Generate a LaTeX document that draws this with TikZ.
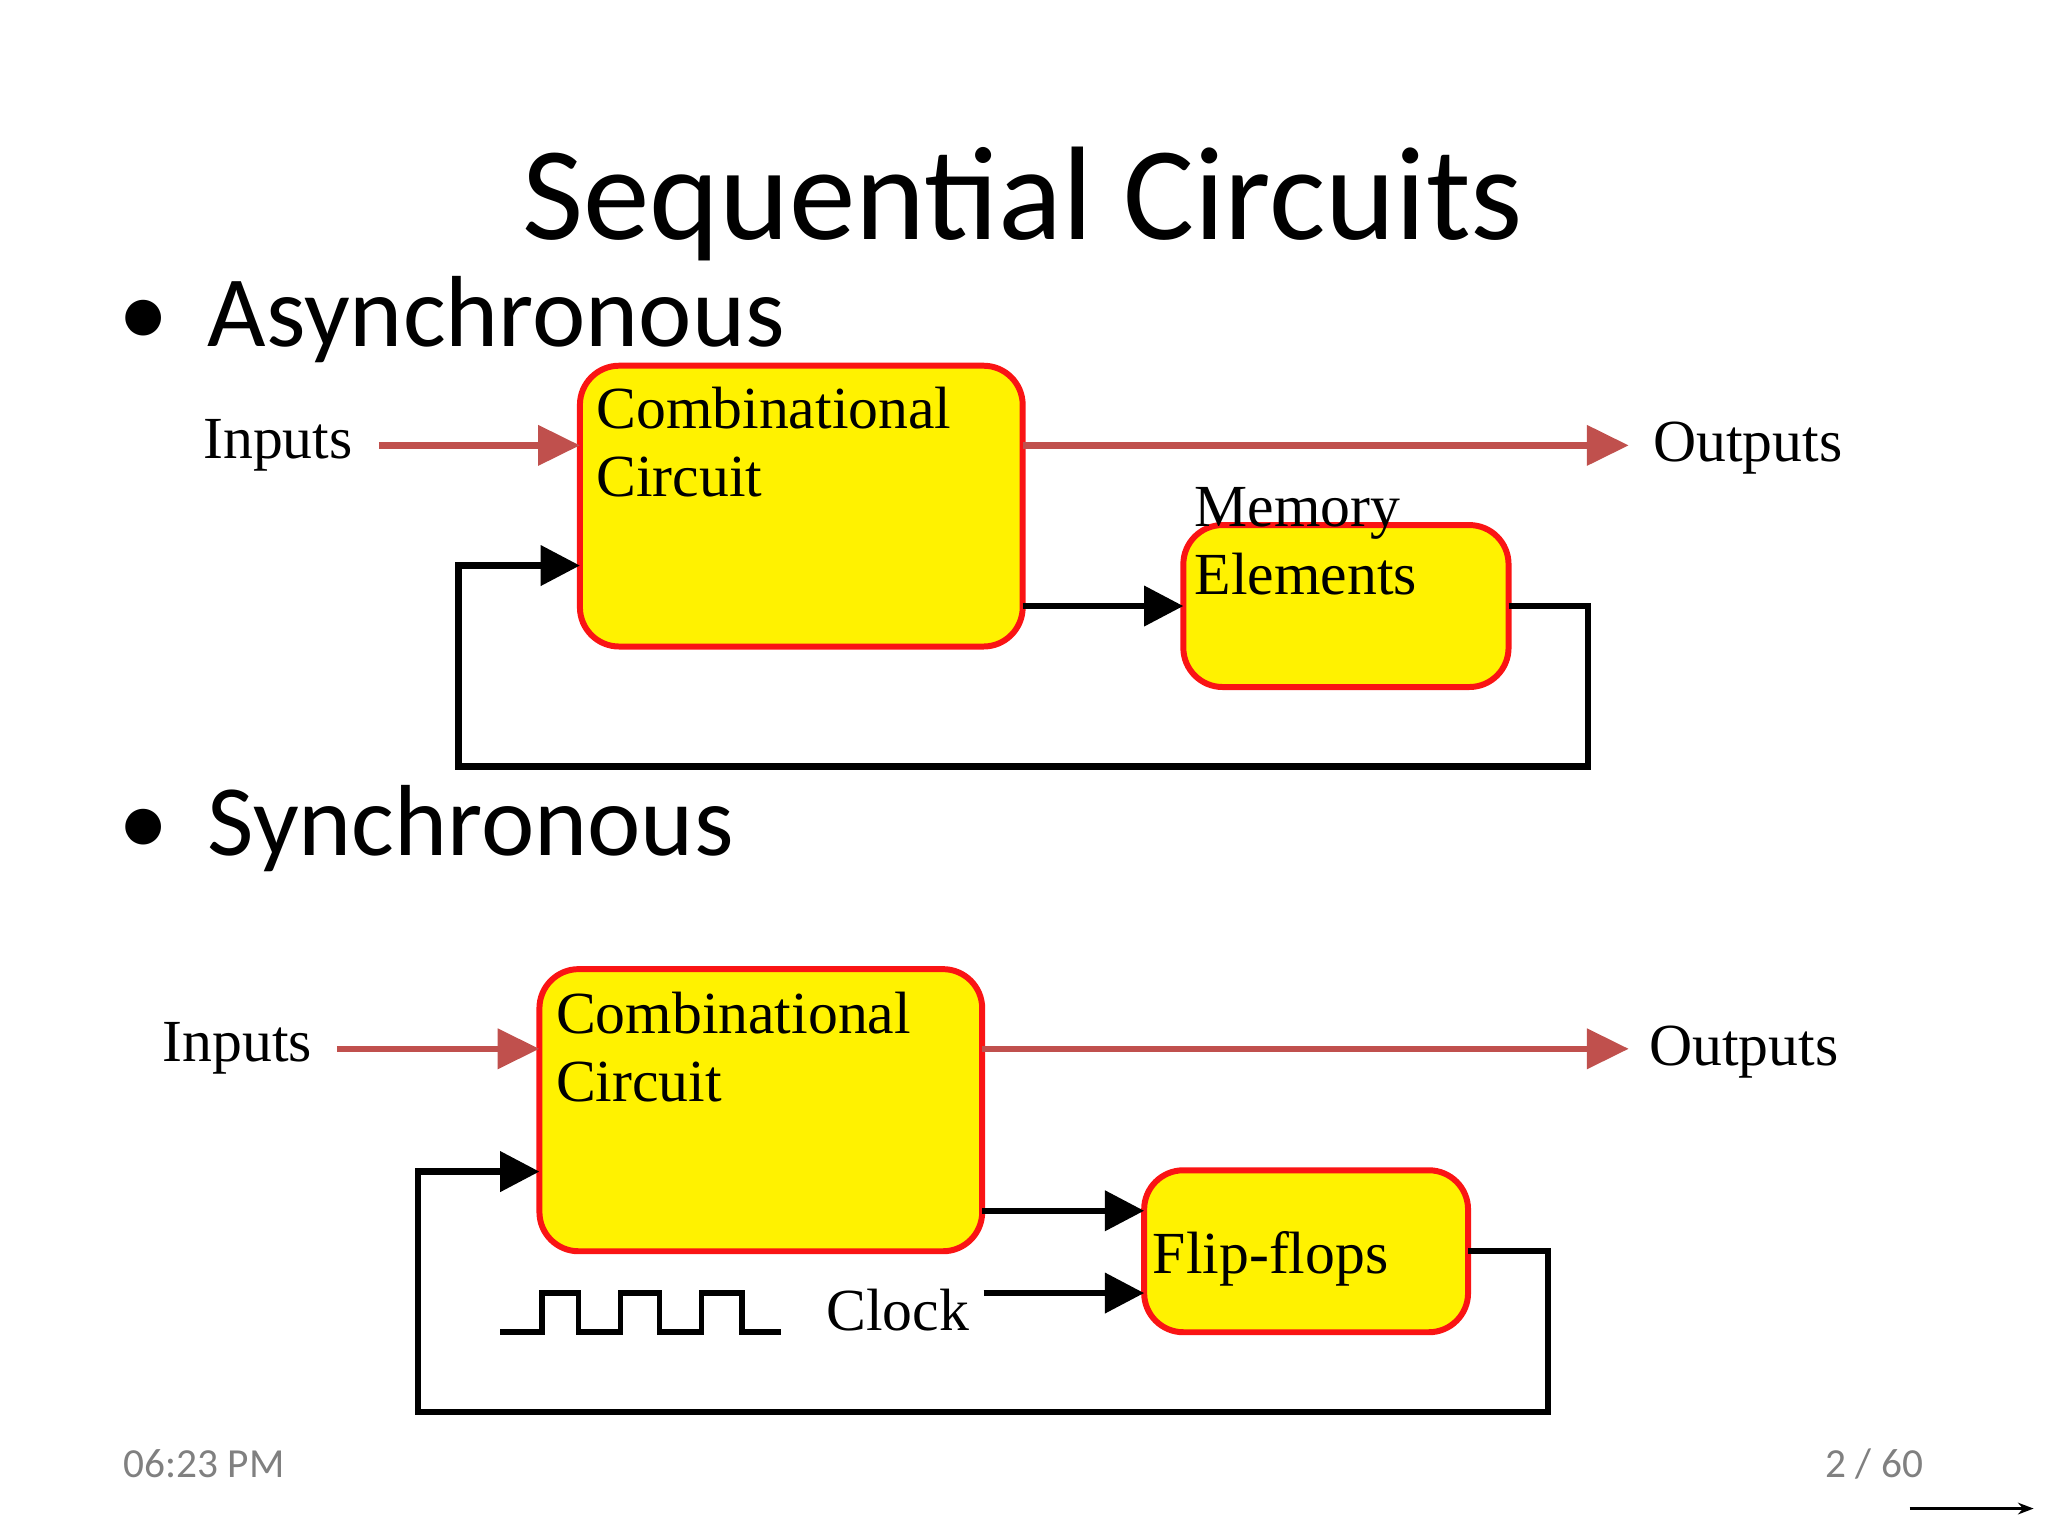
\documentclass[tikz,border=0pt]{standalone}
\usepackage{fontspec}
\setmainfont{Liberation Serif}
\newfontfamily\sansf{Carlito}
\usetikzlibrary{arrows.meta}
\definecolor{boxred}{RGB}{250,20,20}
\definecolor{arrred}{RGB}{192,80,77}
\begin{document}
\begin{tikzpicture}[x=0.01cm,y=-0.01cm,
  blk/.style={draw=boxred,line width=1.3pt,fill=yellow,rounded corners=0.3cm,anchor=north west},
  lbl/.style={font=\fontsize{13}{14.8}\selectfont,anchor=base west,align=left,inner sep=0pt},
  rarr/.style={draw=arrred,line width=1.4pt,-{Triangle[length=0.32cm,width=0.3cm]}},
  barr/.style={draw=black,line width=1.4pt,-{Triangle[length=0.3cm,width=0.3cm]}},
  wire/.style={draw=black,line width=1.4pt},
  bul/.style={font=\sansf\fontsize{22}{26}\selectfont,anchor=base west,inner sep=0pt}]
\useasboundingbox (0,0) rectangle (1568,1176);
\node[font=\sansf\fontsize{29}{34}\selectfont,anchor=base,inner sep=0pt] (title) at (783,183) {Sequential Circuits};
\node[bul] (b1) at (90,265) {\textbullet\hspace{0.3cm}Asynchronous};
\node[bul] (b2) at (90,655) {\textbullet\hspace{0.3cm}Synchronous};
% async
\path[blk] (444,280) rectangle (783,495);
\coordinate (c1nw) at (444,280);
\node[lbl] (t1) at (456,380) {Combinational\\Circuit};
\path[blk] (906,402) rectangle (1155,526);
\node[lbl] (t2) at (914,455) {Memory\\Elements};
\node[lbl] (in1) at (155,351) {Inputs};
\node[lbl] (out1) at (1265,353) {Outputs};
\coordinate (a1) at (290,341); \coordinate (a2) at (444,341);
\coordinate (a3) at (783,341); \coordinate (a4) at (1247,341);
\draw[rarr] (a1) -- (a2);
\draw[rarr] (a3) -- (a4);
\coordinate (m1) at (783,464); \coordinate (m2) at (906,464);
\draw[barr] (m1) -- (m2);
\coordinate (f1) at (1155,464); \coordinate (f2) at (444,433);
\draw[wire,-{Triangle[length=0.3cm,width=0.3cm]}] (f1) -- (1216,464) -- (1216,587) -- (351,587) -- (351,433) -- (f2);
% sync
\path[blk] (413,742) rectangle (752,958);
\node[lbl] (t3) at (425,843) {Combinational\\Circuit};
\path[blk] (876,896) rectangle (1124,1020);
\node[lbl] (t4) at (882,975) {Flip-flops};
\node[lbl] (in2) at (124,813) {Inputs};
\node[lbl] (out2) at (1262,816) {Outputs};
\node[lbl] (clk) at (632,1019) {Clock};
\coordinate (s1) at (258,803); \coordinate (s2) at (413,803);
\coordinate (s3) at (752,803); \coordinate (s4) at (1247,803);
\draw[rarr] (s1) -- (s2);
\draw[rarr] (s3) -- (s4);
\coordinate (g1) at (752,927); \coordinate (g2) at (876,927);
\draw[barr] (g1) -- (g2);
\coordinate (h1) at (753,990); \coordinate (h2) at (876,990);
\draw[barr] (h1) -- (h2);
\coordinate (k1) at (1124,958); \coordinate (k2) at (413,897);
\draw[wire,-{Triangle[length=0.3cm,width=0.3cm]}] (k1) -- (1185,958) -- (1185,1081) -- (320,1081) -- (320,897) -- (k2);
\draw[wire,line width=1.2pt] (383,1020) -- (415,1020) -- (415,990) -- (443,990) -- (443,1020) -- (475,1020) -- (475,990) -- (505,990) -- (505,1020) -- (537,1020) -- (537,990) -- (568,990) -- (568,1020) -- (598,1020);
% footer
\node[font=\sansf\fontsize{9}{11}\selectfont,text=gray,anchor=base west,inner sep=0pt] (time) at (94,1131) {06:23 PM};
\node[font=\sansf\fontsize{9}{11}\selectfont,text=gray,anchor=base east,inner sep=0pt] (page) at (1473,1131) {2 / 60};
\coordinate (e1) at (1462,1155); \coordinate (e2) at (1557,1155);
\draw[-{Stealth[length=0.12cm]},line width=0.5pt] (e1) -- (e2);
\end{tikzpicture}
\end{document}
